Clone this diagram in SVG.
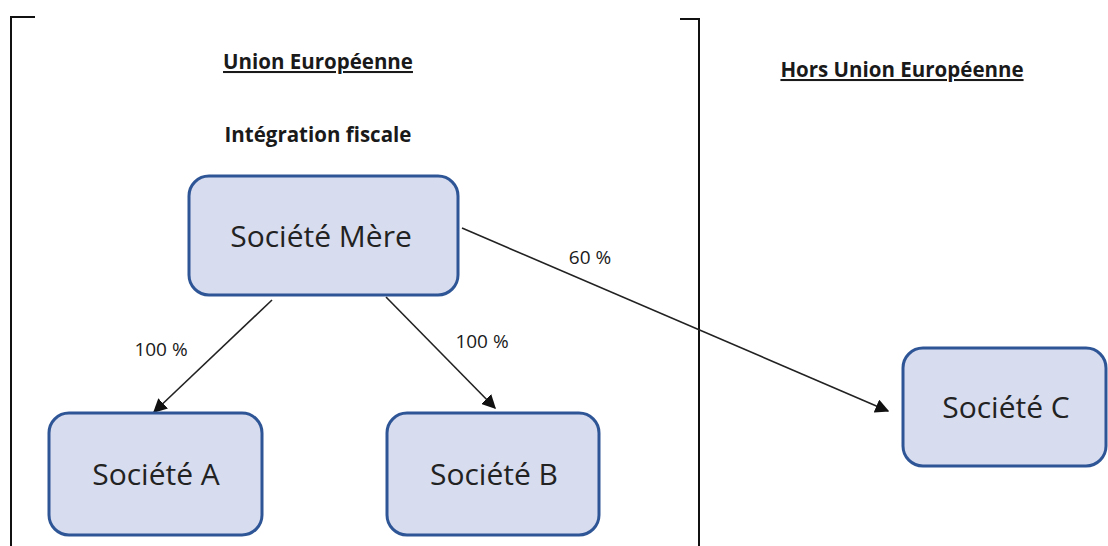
<svg xmlns="http://www.w3.org/2000/svg" width="1108" height="546" viewBox="0 0 1108 546">
<defs>
<style>
.box{fill:#d7dcee;stroke:#2e5596;stroke-width:3}
.nt{font-family:"Open Sans","Liberation Sans",sans-serif;font-size:30px;fill:#222;text-anchor:middle}
.hd{font-family:"Open Sans","Liberation Sans",sans-serif;font-size:20.5px;font-weight:bold;fill:#1a1a1a;text-anchor:middle}
.lb{font-family:"Open Sans","Liberation Sans",sans-serif;font-size:19px;fill:#1a1a1a;text-anchor:middle}
.br{fill:none;stroke:#111;stroke-width:2}
.cn{stroke:#222;stroke-width:1.6;fill:none;marker-end:url(#ah)}
</style>
<marker id="ah" viewBox="0 0 10 10" refX="9" refY="5" markerWidth="14" markerHeight="14" markerUnits="userSpaceOnUse" orient="auto">
<path d="M0,0 L10,5 L0,10 z" fill="#111"/>
</marker>
</defs>
<rect width="1108" height="546" fill="#fff"/>
<g id="frame">
<path class="br" d="M35,17 L11,17 L11,546"/>
<path class="br" d="M680,19 L699,19 L699,546"/>
</g>
<g id="titles">
<text class="hd" x="318" y="69" text-decoration="underline">Union Européenne</text>
<text class="hd" x="318" y="142">Intégration fiscale</text>
<text class="hd" x="902" y="77" text-decoration="underline">Hors Union Européenne</text>
</g>
<g id="connectors">
<line class="cn" x1="272" y1="300" x2="154" y2="412"/>
<line class="cn" x1="386" y1="297" x2="495" y2="408"/>
<line class="cn" x1="462" y1="228" x2="888" y2="411"/>
<text class="lb" x="161" y="356">100 %</text>
<text class="lb" x="482" y="348">100 %</text>
<text class="lb" x="590" y="264">60 %</text>
</g>
<g id="mere">
<rect class="box" x="189" y="176" width="269" height="119" rx="20"/>
<text class="nt" x="321" y="247">Société Mère</text>
</g>
<g id="societeA">
<rect class="box" x="49" y="413" width="213" height="122" rx="20"/>
<text class="nt" x="156" y="485">Société A</text>
</g>
<g id="societeB">
<rect class="box" x="387" y="413" width="212" height="122" rx="20"/>
<text class="nt" x="494" y="485">Société B</text>
</g>
<g id="societeC">
<rect class="box" x="903" y="348" width="203" height="118" rx="20"/>
<text class="nt" x="1006" y="418">Société C</text>
</g>
</svg>
